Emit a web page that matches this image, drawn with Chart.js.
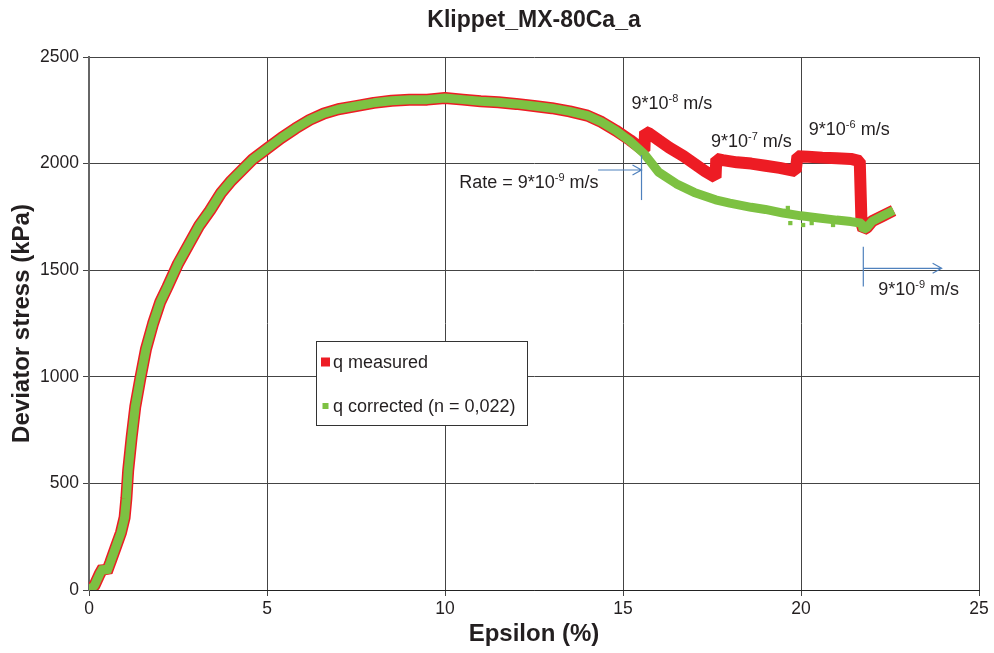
<!DOCTYPE html>
<html>
<head>
<meta charset="utf-8">
<title>Klippet_MX-80Ca_a</title>
<script src="https://cdn.jsdelivr.net/npm/chart.js@4.4.1/dist/chart.umd.min.js"></script>
<style>
  html, body { margin: 0; padding: 0; background: #fff; }
  #wrap { width: 994px; height: 653px; }
</style>
</head>
<body>
<div id="wrap"><canvas id="stressChart" width="994" height="653"></canvas></div>
<script>
// Epsilon (%) / deviator stress (kPa)
const epsCorrected = [0, 0.15, 0.3, 0.4, 0.5, 0.6, 0.75, 0.9, 1.0, 1.05, 1.1, 1.2, 1.3, 1.45, 1.6, 1.8, 2.0, 2.2, 2.5, 2.8,
  3.1, 3.4, 3.7, 4.0, 4.3, 4.6, 5.0, 5.4, 5.8, 6.2, 6.6, 7.0, 7.5, 8.0, 8.5, 9.0, 9.5, 10.0, 10.5, 11.0,
  11.5, 12.0, 12.5, 13.0, 13.5, 14.0, 14.4, 14.8, 15.2, 15.6, 16.0, 16.5, 17.0, 17.6, 18.0, 18.6, 19.0, 19.5,
  20.0, 20.5, 21.0, 21.4, 21.7, 21.75, 21.85, 22.0, 22.3, 22.6];
const qCorrected = [0, 20, 75, 105, 85, 130, 200, 270, 340, 430, 560, 720, 860, 1000, 1130, 1250, 1350, 1420, 1530, 1620,
  1710, 1780, 1860, 1920, 1970, 2020, 2070, 2120, 2165, 2205, 2235, 2255, 2270, 2285, 2295, 2300, 2300, 2308, 2300, 2292,
  2288, 2280, 2270, 2260, 2245, 2225, 2195, 2155, 2105, 2045, 1960, 1905, 1865, 1830, 1815, 1795, 1785, 1768,
  1755, 1745, 1735, 1728, 1720, 1690, 1700, 1730, 1755, 1780];

const epsMeasured = [0, 0.15, 0.3, 0.4, 0.5, 0.6, 0.75, 0.9, 1.0, 1.05, 1.1, 1.2, 1.3, 1.45, 1.6, 1.8, 2.0, 2.2, 2.5, 2.8,
  3.1, 3.4, 3.7, 4.0, 4.3, 4.6, 5.0, 5.4, 5.8, 6.2, 6.6, 7.0, 7.5, 8.0, 8.5, 9.0, 9.5, 10.0, 10.5, 11.0,
  11.5, 12.0, 12.5, 13.0, 13.5, 14.0, 14.4, 14.8, 15.2, 15.5, 15.6, 15.62, 15.75, 16.0, 16.3, 16.7, 17.0, 17.3, 17.6,
  17.62, 17.8, 18.2, 18.6, 19.0, 19.4, 19.85, 19.9, 20.2, 20.6, 21.0, 21.4, 21.65, 21.7, 21.75, 21.85, 22.0, 22.3, 22.6];
const qMeasured = [0, 20, 75, 105, 85, 130, 200, 270, 340, 430, 560, 720, 860, 1000, 1130, 1250, 1350, 1420, 1530, 1620,
  1710, 1780, 1860, 1920, 1970, 2020, 2070, 2120, 2165, 2205, 2235, 2255, 2270, 2285, 2295, 2300, 2300, 2308, 2300, 2292,
  2288, 2280, 2270, 2260, 2245, 2225, 2195, 2155, 2110, 2072, 2060, 2150, 2140, 2110, 2075, 2035, 2000, 1965, 1935,
  2022, 2016, 2006, 2000, 1990, 1980, 1965, 2035, 2032, 2028, 2025, 2022, 2012, 1720, 1690, 1700, 1730, 1755, 1780];

// stray corrected points off the main trace
const epsStray = [19.63, 19.7, 20.06, 20.3, 20.9];
const qStray = [1792, 1721, 1712, 1721, 1712];

const xTickValues = [0, 5, 10, 15, 20, 25];
const yTickValues = [0, 500, 1000, 1500, 2000, 2500];

const RED = "#ed1c24";
const GREEN = "#7dc142";
const BLUE = "#4f81bd";
const INK = "#231f20";
const FONT = "'Liberation Sans', Arial, sans-serif";

const toPoints = (xs, ys) => xs.map((x, i) => ({ x: x, y: ys[i] }));

// text with a raised exponent: ["9*10", "-8", " m/s"]
function drawSup(ctx, parts, x, y, size) {
  ctx.save();
  ctx.fillStyle = INK;
  ctx.textBaseline = "alphabetic";
  ctx.textAlign = "left";
  ctx.font = size + "px " + FONT;
  ctx.fillText(parts[0], x, y);
  x += ctx.measureText(parts[0]).width;
  const small = Math.round(size * 0.62);
  ctx.font = small + "px " + FONT;
  ctx.fillText(parts[1], x, y - size * 0.38);
  x += ctx.measureText(parts[1]).width;
  ctx.font = size + "px " + FONT;
  ctx.fillText(parts[2], x, y);
  ctx.restore();
}

function arrowLine(ctx, x1, y1, x2, y2) {
  ctx.beginPath();
  ctx.moveTo(x1, y1);
  ctx.lineTo(x2, y2);
  ctx.moveTo(x2 - 9, y2 - 5);
  ctx.lineTo(x2, y2);
  ctx.lineTo(x2 - 9, y2 + 5);
  ctx.stroke();
}

// rate labels and arrows, placed in data units
const rateNotes = {
  id: "rateNotes",
  afterDatasetsDraw(chart) {
    const { ctx, scales: { x, y } } = chart;
    const px = v => x.getPixelForValue(v);
    const py = v => y.getPixelForValue(v);

    drawSup(ctx, ["Rate = 9*10", "-9", " m/s"], px(10.4), py(1885), 18);
    drawSup(ctx, ["9*10", "-8", " m/s"], px(15.24), py(2256), 18);
    drawSup(ctx, ["9*10", "-7", " m/s"], px(17.47), py(2080), 18);
    drawSup(ctx, ["9*10", "-6", " m/s"], px(20.22), py(2134), 18);
    drawSup(ctx, ["9*10", "-9", " m/s"], px(22.17), py(1384), 18);

    ctx.save();
    ctx.strokeStyle = BLUE;
    ctx.lineWidth = 1.2;
    arrowLine(ctx, px(14.3), py(1970), px(15.52), py(1970));
    ctx.beginPath();
    ctx.moveTo(px(15.52), py(2040));
    ctx.lineTo(px(15.52), py(1829));
    ctx.stroke();

    ctx.beginPath();
    ctx.moveTo(px(21.75), py(1610));
    ctx.lineTo(px(21.75), py(1423));
    ctx.stroke();
    arrowLine(ctx, px(21.75), py(1509), px(23.95), py(1509));
    ctx.restore();
  }
};

// boxed legend sitting inside the plot
const boxLegend = {
  id: "boxLegend",
  afterDraw(chart) {
    const { ctx, chartArea } = chart;
    const left = chartArea.left + 227;
    const top = chartArea.top + 284;
    const w = 211, h = 84;
    ctx.save();
    ctx.fillStyle = "#fff";
    ctx.fillRect(left, top, w, h);
    ctx.strokeStyle = "#333";
    ctx.lineWidth = 1;
    ctx.strokeRect(left + 0.5, top + 0.5, w, h);
    ctx.font = "18px " + FONT;
    ctx.textBaseline = "middle";
    ctx.fillStyle = INK;
    const items = chart.data.datasets.filter(d => !d.noLegend);
    items.forEach((d, i) => {
      const cy = top + 21 + i * 44;
      const s = d.legendBox;
      ctx.fillStyle = d.borderColor;
      ctx.fillRect(left + 9 - s / 2 + 0.5, cy - s / 2, s, s);
      ctx.fillStyle = INK;
      ctx.fillText(d.label, left + 17, cy + 1);
    });
    ctx.restore();
  }
};

const ctx = document.getElementById("stressChart").getContext("2d");
new Chart(ctx, {
  type: "scatter",
  data: {
    datasets: [
      {
        label: "q measured",
        data: toPoints(epsMeasured, qMeasured),
        showLine: true,
        borderColor: RED,
        backgroundColor: RED,
        borderWidth: 12,
        borderJoinStyle: "bevel",
        pointRadius: 0,
        legendBox: 9,
        order: 3
      },
      {
        label: "q corrected (n = 0,022)",
        data: toPoints(epsCorrected, qCorrected),
        showLine: true,
        borderColor: GREEN,
        backgroundColor: GREEN,
        borderWidth: 9,
        borderJoinStyle: "bevel",
        pointRadius: 0,
        legendBox: 6,
        order: 2
      },
      {
        label: "q corrected stray",
        data: toPoints(epsStray, qStray),
        showLine: false,
        borderColor: GREEN,
        backgroundColor: GREEN,
        pointStyle: "rect",
        pointRadius: 3,
        borderWidth: 0,
        noLegend: true,
        order: 1
      }
    ]
  },
  options: {
    responsive: false,
    animation: false,
    layout: { padding: { left: 8, right: 15, top: 6, bottom: 4 } },
    plugins: {
      legend: { display: false },
      tooltip: { enabled: false },
      title: {
        display: true,
        text: "Klippet_MX-80Ca_a",
        fullSize: false,
        color: INK,
        font: { family: FONT, size: 23, weight: "bold" },
        padding: { top: 1, bottom: 22.4 }
      }
    },
    scales: {
      x: {
        type: "linear",
        min: 0,
        max: 25,
        afterBuildTicks: s => { s.ticks = xTickValues.map(v => ({ value: v })); },
        afterFit: s => { s.height = 59; },
        ticks: { color: INK, font: { family: FONT, size: 17.5 }, padding: 3, maxRotation: 0, callback: v => String(v) },
        grid: { color: "#444", lineWidth: 1, tickLength: 6 },
        border: { color: "#222", width: 1 },
        title: {
          display: true,
          text: "Epsilon (%)",
          color: INK,
          font: { family: FONT, size: 24, weight: "bold" },
          padding: 0
        }
      },
      y: {
        min: 0,
        max: 2500,
        afterBuildTicks: s => { s.ticks = yTickValues.map(v => ({ value: v })); },
        afterFit: s => { s.width = 81; },
        ticks: { color: INK, font: { family: FONT, size: 17.5 }, padding: 4, callback: v => String(v) },
        grid: { color: "#444", lineWidth: 1, tickLength: 6 },
        border: { color: "#666", width: 2 },
        title: {
          display: true,
          text: "Deviator stress (kPa)",
          color: INK,
          font: { family: FONT, size: 24, weight: "bold" },
          padding: 0
        }
      }
    }
  },
  plugins: [rateNotes, boxLegend]
});
</script>
</body>
</html>
